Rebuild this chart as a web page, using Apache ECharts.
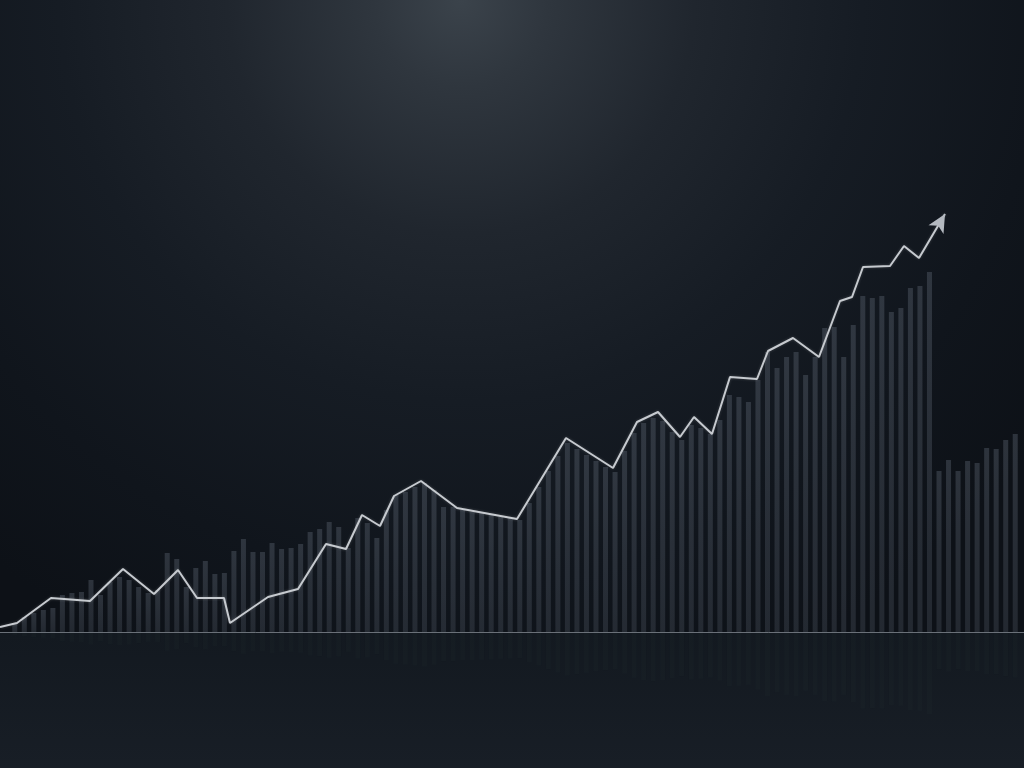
<!DOCTYPE html>
<html>
<head>
<meta charset="utf-8">
<style>
html,body{margin:0;padding:0;background:#10151c;}
#chart{width:1024px;height:768px;}
</style>
<script src="https://cdn.jsdelivr.net/npm/echarts@6/dist/echarts.min.js"></script>
</head>
<body>
<div id="chart"></div>
<script>
// Bar heights (units above the baseline), left to right
var barValues = [
  9, 15, 19, 22, 24, 37, 39, 40, 52, 37,
  50, 55, 52, 45, 39, 42, 79, 73, 45, 64,
  71, 58, 59, 81, 93, 80, 80, 89, 83, 84,
  88, 100, 103, 110, 105, 84, 114, 109, 94, 122,
  137, 140, 145, 149, 142, 125, 125, 122, 120, 119,
  118, 115, 114, 112, 129, 145, 161, 176, 189, 183,
  177, 171, 165, 160, 181, 199, 209, 214, 211, 200,
  192, 207, 204, 198, 212, 237, 235, 230, 252, 280,
  264, 275, 280, 257, 275, 304, 305, 275, 307, 336,
  334, 336, 320, 324, 344, 346, 360, 161, 172, 161,
  171, 169, 184, 183, 192, 198
];
var categories = barValues.map(function (_, i) { return 'B' + (i + 1); });

// Trend line vertices: horizontal position and height above baseline
var lineX = [0, 17, 51, 90, 123, 154, 178, 197, 224, 230, 268, 298, 326, 346, 362, 380, 394, 421, 457, 517,
             566, 613, 637, 658, 680, 694, 712, 730, 757, 768, 793, 819, 840, 852, 863, 890, 904, 919, 945];
var lineY = [5, 9, 34, 31, 63, 38, 62, 34, 34, 9, 35, 43, 88, 83, 117, 106, 136, 151, 124, 113,
             194, 164, 210, 220, 195, 215, 198, 255, 253, 281, 294, 275, 331, 335, 365, 366, 386, 374, 418];

var lineData = lineX.map(function (x, i) {
  var item = { value: [x, lineY[i]] };
  if (i === lineX.length - 1) {
    item.symbol = 'arrow';
    item.symbolSize = [13, 18];
    item.symbolRotate = -30;
    item.itemStyle = { color: '#b4b9c0' };
  }
  return item;
});

var chart = echarts.init(document.getElementById('chart'), null, { renderer: 'canvas' });
chart.setOption({
  animation: false,
  backgroundColor: new echarts.graphic.RadialGradient(0.45, 0.0, 0.95, [
    { offset: 0, color: '#3b434b' },
    { offset: 0.12, color: '#2f363e' },
    { offset: 0.32, color: '#20262e' },
    { offset: 0.55, color: '#161c24' },
    { offset: 0.8, color: '#10151c' },
    { offset: 1, color: '#0d1117' }
  ]),
  graphic: [{
    type: 'rect',
    z: -10,
    silent: true,
    shape: { x: 0, y: 633, width: 1024, height: 135 },
    style: {
      fill: new echarts.graphic.LinearGradient(0, 0, 0, 1, [
        { offset: 0, color: '#131920' },
        { offset: 1, color: '#181e26' }
      ])
    }
  }],
  grid: [
    { left: 10, right: 4, top: 32, bottom: 136 },
    { left: 0, right: 0, top: 32, bottom: 136 },
    { left: 10, right: 4, top: 633, bottom: 0 }
  ],
  xAxis: [
    { gridIndex: 0, type: 'category', data: categories, boundaryGap: true, show: false },
    { gridIndex: 1, type: 'value', min: 0, max: 1024,
      axisLine: { show: true, onZero: false, lineStyle: { color: '#6a7078', width: 1 } },
      axisTick: { show: false }, axisLabel: { show: false }, splitLine: { show: false } },
    { gridIndex: 2, type: 'category', data: categories, boundaryGap: true, show: false }
  ],
  yAxis: [
    { gridIndex: 0, type: 'value', min: 0, max: 600, show: false },
    { gridIndex: 1, type: 'value', min: 0, max: 600, show: false },
    { gridIndex: 2, type: 'value', min: 0, max: 600, inverse: true, show: false }
  ],
  series: [
    {
      type: 'bar',
      xAxisIndex: 0, yAxisIndex: 0,
      data: barValues,
      barWidth: 5,
      itemStyle: {
        color: new echarts.graphic.LinearGradient(0, 0, 0, 1, [
          { offset: 0, color: 'rgba(92,101,114,0.40)' },
          { offset: 1, color: 'rgba(78,86,98,0.34)' }
        ])
      },
      silent: true
    },
    {
      type: 'bar',
      xAxisIndex: 2, yAxisIndex: 2,
      data: barValues,
      barWidth: 5,
      itemStyle: { color: 'rgba(90,100,112,0.035)' },
      silent: true
    },
    {
      type: 'line',
      xAxisIndex: 1, yAxisIndex: 1,
      data: lineData,
      symbol: 'none',
      lineStyle: { color: '#c6cacf', width: 2, shadowColor: 'rgba(255,255,255,0.2)', shadowBlur: 3 },
      z: 5,
      silent: true
    }
  ]
});
</script>
</body>
</html>
